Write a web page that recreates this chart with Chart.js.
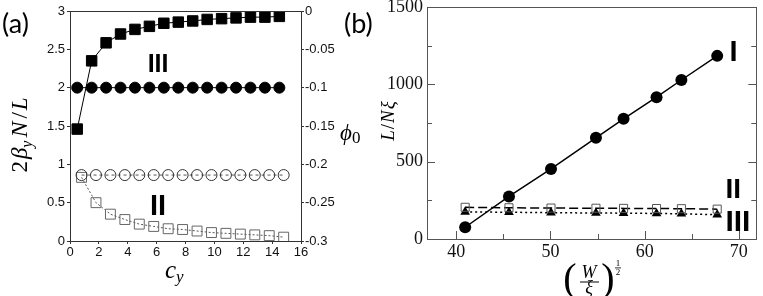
<!DOCTYPE html>
<html>
<head>
<meta charset="utf-8">
<script src="https://cdn.jsdelivr.net/npm/chart.js@4"></script>
<style>
  body { margin: 0; background: #fff; }
  #wrap { position: relative; width: 763px; height: 296px; overflow: hidden; }
  canvas { position: absolute; top: 0; }
</style>
</head>
<body>
<div id="wrap">
  <canvas id="panelA" width="380" height="296" style="left:0px"></canvas>
  <canvas id="panelB" width="423" height="296" style="left:340px"></canvas>
</div>
<script>
// ---- panel (a) data ----
const cyFilled = [0.5, 1.5, 2.5, 3.5, 4.5, 5.5, 6.5, 7.5, 8.5, 9.5, 10.5, 11.5, 12.5, 13.5, 14.5];
const cyOpen = [0.8, 1.8, 2.8, 3.8, 4.8, 5.8, 6.8, 7.8, 8.8, 9.8, 10.8, 11.8, 12.8, 13.8, 14.8];
const betaIII = [1.46, 2.35, 2.585, 2.70, 2.76, 2.80, 2.84, 2.855, 2.87, 2.89, 2.90, 2.91, 2.92, 2.92, 2.93];
const phiIII = [-0.1, -0.1, -0.1, -0.1, -0.1, -0.1, -0.1, -0.1, -0.1, -0.1, -0.1, -0.1, -0.1, -0.1, -0.1];
const betaII = [0.83, 0.50, 0.35, 0.28, 0.22, 0.19, 0.16, 0.15, 0.13, 0.11, 0.10, 0.09, 0.08, 0.07, 0.05];
const phiII = [-0.214, -0.214, -0.214, -0.214, -0.214, -0.214, -0.214, -0.214, -0.214, -0.214, -0.214, -0.214, -0.214, -0.214, -0.214];

// ---- panel (b) data ----
const sqrtWxi = [40.95, 45.6, 50.06, 54.83, 57.76, 61.26, 63.9, 67.7];
const lenI = [76, 275, 453, 654, 777, 917, 1028, 1184];
const lenII = [205, 202, 200, 199, 198, 197, 196, 193];
const lenIII = [175, 173, 170, 168, 167, 165, 163, 157];

const pts = (xs, ys) => xs.map((x, i) => ({ x: x, y: ys[i] }));
const numLabel = v => String(+(+v).toFixed(2));

function fixWidth(w) {
    return s => { s.width = w; s.paddingTop = 0; s.paddingBottom = 0; s.paddingLeft = 0; s.paddingRight = 0; };
}
function fixHeight(h) {
    return s => { s.height = h; s.paddingTop = 0; s.paddingBottom = 0; s.paddingLeft = 0; s.paddingRight = 0; };
}

// draw a row of text pieces (for math-like labels)
function drawRuns(ctx, runs, x, y, center) {
    let total = 0;
    runs.forEach(r => { ctx.font = r.font; r.w = ctx.measureText(r.text).width; total += r.w + (r.gap || 0); });
    let cx = center ? x - total / 2 : x;
    runs.forEach(r => {
        ctx.font = r.font;
        ctx.fillText(r.text, cx, y + (r.dy || 0));
        cx += r.w + (r.gap || 0);
    });
}

function drawFrame(chart, color) {
    const { ctx, chartArea: a } = chart;
    ctx.save();
    ctx.strokeStyle = color;
    ctx.lineWidth = 1;
    ctx.strokeRect(Math.round(a.left) + 0.5, Math.round(a.top) + 0.5,
        Math.round(a.right) - Math.round(a.left), Math.round(a.bottom) - Math.round(a.top));
    ctx.restore();
}

// roman numerals placed in data coordinates
function drawMarks(chart, marks, yId) {
    const { ctx } = chart;
    const xs = chart.scales.x, ys = chart.scales[yId];
    ctx.save();
    ctx.fillStyle = "#000";
    ctx.textAlign = "center";
    ctx.textBaseline = "alphabetic";
    marks.forEach(m => {
        ctx.font = "bold " + m.size + "px 'Liberation Sans'";
        ctx.fillText(m.text, xs.getPixelForValue(m.x), ys.getPixelForValue(m.y) + m.size * 0.358);
    });
    ctx.restore();
}

const serif = "'Liberation Serif', 'DejaVu Serif', serif";

const panelAText = {
    id: "panelAText",
    afterDraw(chart) {
        const ctx = chart.ctx;
        drawFrame(chart, "#333");
        drawMarks(chart, [
            { text: "III", x: 6.1, y: 2.32, size: 25 },
            { text: "II", x: 6.1, y: 0.48, size: 29 }
        ], "y");
        ctx.save();
        ctx.fillStyle = "#000";
        ctx.textAlign = "left";
        ctx.textBaseline = "alphabetic";
        ctx.font = "27px Lato";
        ctx.fillText("(a)", 2, 33);
        // y title
        ctx.save();
        ctx.translate(27, 135);
        ctx.rotate(-Math.PI / 2);
        drawRuns(ctx, [
            { text: "2", font: "23px " + serif, gap: 2 },
            { text: "β", font: "italic 23px " + serif, gap: 0 },
            { text: "y", font: "italic 16px " + serif, dy: 5, gap: 3 },
            { text: "N", font: "italic 24px " + serif, gap: 3 },
            { text: "/", font: "23px " + serif, gap: 2 },
            { text: "L", font: "italic 23px " + serif }
        ], 0, 0, true);
        ctx.restore();
        // right title phi_0
        drawRuns(ctx, [
            { text: "ϕ", font: "italic 23px " + serif, gap: 0 },
            { text: "0", font: "17px " + serif, dy: 3 }
        ], 340, 140, false);
        // x title c_y
        drawRuns(ctx, [
            { text: "c", font: "italic 25px " + serif, gap: 0 },
            { text: "y", font: "italic 17px " + serif, dy: 4 }
        ], 165, 278, false);
        ctx.restore();
    }
};

const panelBText = {
    id: "panelBText",
    afterDraw(chart) {
        const { ctx, chartArea: a } = chart;
        drawFrame(chart, "#555");
        // inward ticks, major longer
        ctx.save();
        ctx.strokeStyle = "#555";
        ctx.lineWidth = 1;
        const xs = chart.scales.x, ys = chart.scales.y;
        ctx.beginPath();
        xs.ticks.forEach(t => {
            const p = Math.round(xs.getPixelForValue(t.value)) + 0.5;
            const len = t.value % 10 === 0 ? 8 : 5;
            ctx.moveTo(p, a.bottom); ctx.lineTo(p, a.bottom - len);
        });
        ys.ticks.forEach(t => {
            const p = Math.round(ys.getPixelForValue(t.value)) + 0.5;
            const len = t.value % 500 === 0 ? 8 : 5;
            ctx.moveTo(a.left, p); ctx.lineTo(a.left + len, p);
            ctx.moveTo(a.right, p); ctx.lineTo(a.right - len, p);
        });
        ctx.stroke();
        ctx.restore();

        drawMarks(chart, [
            { text: "I", x: 69.42, y: 1221, size: 29 },
            { text: "II", x: 69.4, y: 332, size: 28 },
            { text: "III", x: 69.9, y: 123, size: 30 }
        ], "y");

        ctx.save();
        ctx.fillStyle = "#000";
        ctx.textBaseline = "alphabetic";
        ctx.textAlign = "left";
        ctx.font = "27px Lato";
        ctx.fillText("(b)", 4, 33);
        // y title L / N xi
        ctx.save();
        ctx.translate(54, 121);
        ctx.rotate(-Math.PI / 2);
        drawRuns(ctx, [
            { text: "L", font: "italic 19px " + serif, gap: 1 },
            { text: "/", font: "19px " + serif, gap: 1 },
            { text: "N", font: "italic 19px " + serif, gap: 1 },
            { text: "ξ", font: "italic 19px " + serif }
        ], 0, 0, true);
        ctx.restore();
        // x title (W / xi)^(1/2)
        const cx = 590 - 340;
        ctx.font = "40px " + serif;
        ctx.textAlign = "center";
        ctx.fillText("(", cx - 20, 291);
        ctx.fillText(")", cx + 18, 291);
        ctx.font = "italic 18px " + serif;
        ctx.fillText("W", cx - 1, 278);
        ctx.fillText("ξ", cx - 1, 293);
        ctx.fillRect(cx - 10, 281.5, 19, 1);
        ctx.font = "9px " + serif;
        ctx.fillText("1", cx + 28, 266);
        ctx.fillText("2", cx + 28, 275);
        ctx.fillRect(cx + 25, 267.5, 6, 0.8);
        ctx.restore();
    }
};

new Chart(document.getElementById("panelA"), {
    type: "line",
    data: {
        datasets: [
            {
                data: pts(cyFilled, betaIII), yAxisID: "y",
                borderColor: "#000", borderWidth: 1,
                pointStyle: "rect", pointRadius: 7.4, pointBorderWidth: 1,
                pointBackgroundColor: "#000", pointBorderColor: "#000"
            },
            {
                data: pts(cyFilled, phiIII), yAxisID: "y2",
                borderColor: "#000", borderWidth: 1,
                pointStyle: "circle", pointRadius: 5.5, pointBorderWidth: 1,
                pointBackgroundColor: "#000", pointBorderColor: "#000"
            },
            {
                data: pts(cyOpen, phiII), yAxisID: "y2",
                borderColor: "#555", borderWidth: 1, borderDash: [3, 3],
                pointStyle: "circle", pointRadius: 5.5, pointBorderWidth: 1,
                pointBackgroundColor: "rgba(0,0,0,0)", pointBorderColor: "#333"
            },
            {
                data: pts(cyOpen, betaII), yAxisID: "y",
                borderColor: "#555", borderWidth: 1, borderDash: [2, 2],
                pointStyle: "rect", pointRadius: 7, pointBorderWidth: 1,
                pointBackgroundColor: "rgba(0,0,0,0)", pointBorderColor: "#666"
            }
        ]
    },
    options: {
        responsive: false,
        animation: false,
        layout: { padding: { top: 11, left: 0, right: 0, bottom: 0 } },
        plugins: { legend: { display: false }, tooltip: { enabled: false } },
        scales: {
            x: {
                type: "linear", min: 0, max: 16,
                ticks: { stepSize: 2, color: "#111", padding: 1, maxRotation: 0, font: { family: "'Liberation Sans'", size: 13 } },
                grid: { drawOnChartArea: false, tickLength: 3, color: "#333" },
                border: { display: false },
                afterFit: fixHeight(55)
            },
            y: {
                position: "left", min: 0, max: 3,
                ticks: { stepSize: 0.5, color: "#111", padding: 2, callback: numLabel, font: { family: "'Liberation Sans'", size: 13 } },
                grid: { drawOnChartArea: false, tickLength: 3, color: "#333" },
                border: { display: false },
                afterFit: fixWidth(70)
            },
            y2: {
                position: "right", min: -0.3, max: 0,
                ticks: { stepSize: 0.05, color: "#111", padding: 1, callback: numLabel, font: { family: "'Liberation Sans'", size: 13 } },
                grid: { drawOnChartArea: false, tickLength: 3, color: "#333" },
                border: { display: false },
                afterFit: fixWidth(79)
            }
        }
    },
    plugins: [panelAText]
});

new Chart(document.getElementById("panelB"), {
    type: "line",
    data: {
        datasets: [
            {
                data: pts(sqrtWxi, lenI),
                borderColor: "#000", borderWidth: 1.5,
                pointStyle: "circle", pointRadius: 6, pointBorderWidth: 0,
                pointBackgroundColor: "#000"
            },
            {
                data: pts(sqrtWxi, lenII),
                borderColor: "#000", borderWidth: 1.5, borderDash: [9, 4],
                pointStyle: "rect", pointRadius: 5.7, pointBorderWidth: 1,
                pointBackgroundColor: "rgba(0,0,0,0)", pointBorderColor: "#555"
            },
            {
                data: pts(sqrtWxi, lenIII),
                borderColor: "#000", borderWidth: 1.5, borderDash: [2, 3],
                pointStyle: "triangle", pointRadius: 5.6, pointBorderWidth: 0,
                pointBackgroundColor: "#000"
            }
        ]
    },
    options: {
        responsive: false,
        animation: false,
        layout: { padding: { top: 7, left: 0, right: 6, bottom: 0 } },
        plugins: { legend: { display: false }, tooltip: { enabled: false } },
        scales: {
            x: {
                type: "linear", min: 36.9, max: 71.85,
                ticks: {
                    stepSize: 5, includeBounds: false, color: "#111", padding: 2, maxRotation: 0,
                    callback: v => (v % 10 === 0 ? String(v) : ""),
                    font: { family: "'Liberation Serif'", size: 18 }
                },
                grid: { drawOnChartArea: false, drawTicks: false },
                border: { display: false },
                afterFit: fixHeight(57)
            },
            y: {
                min: 0, max: 1500,
                ticks: {
                    stepSize: 250, color: "#111", padding: 4,
                    callback: v => (v % 500 === 0 ? String(v) : ""),
                    font: { family: "'Liberation Serif'", size: 18 }
                },
                grid: { drawOnChartArea: false, drawTicks: false },
                border: { display: false },
                afterFit: fixWidth(87)
            }
        }
    },
    plugins: [panelBText]
});
</script>
</body>
</html>
